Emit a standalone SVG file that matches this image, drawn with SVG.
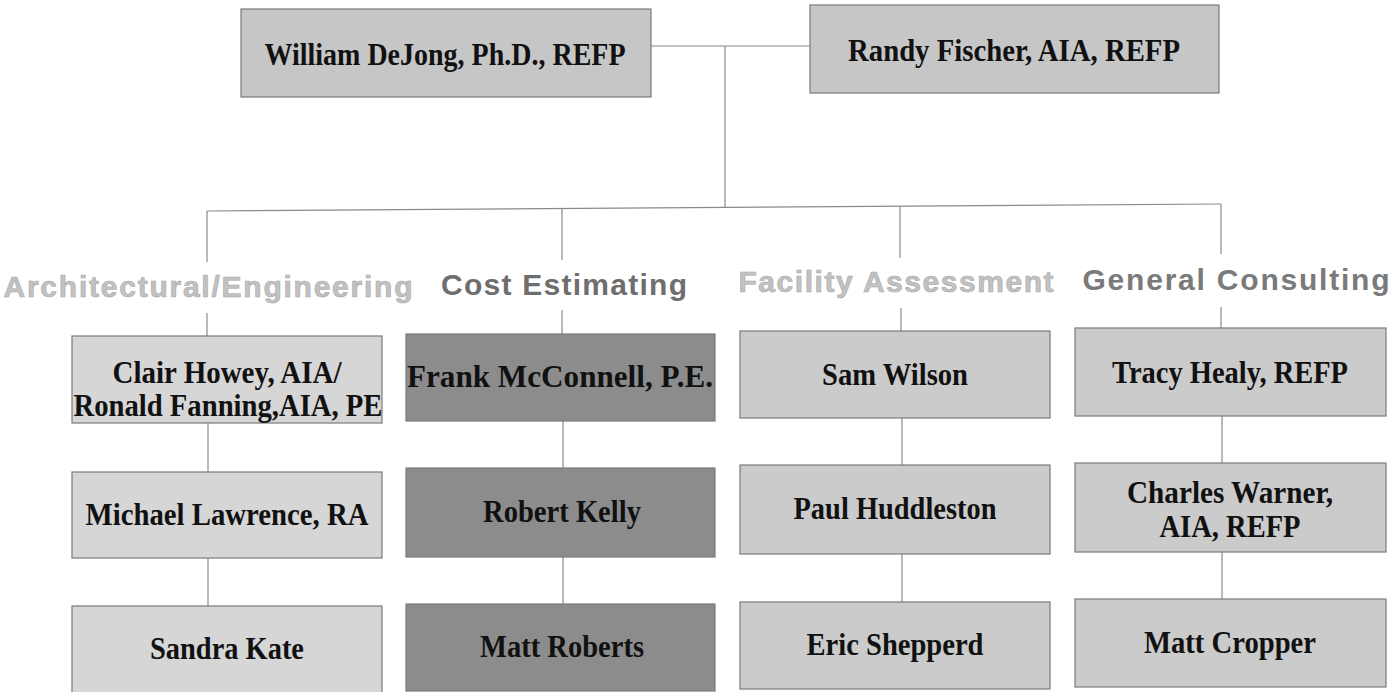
<svg xmlns="http://www.w3.org/2000/svg" width="1396" height="692" viewBox="0 0 1396 692">
<style>
.bg{fill:#ffffff}
.box{stroke:#7a7a7a;stroke-width:1.2}
.top{fill:#c6c6c6}
.c1{fill:#d6d6d6}
.c2{fill:#8c8c8c}
.c3{fill:#cbcbcb}
.name{font-family:"Liberation Serif","Times New Roman",serif;font-weight:bold;font-size:31px;fill:#111;text-anchor:middle}
.head{font-family:"Liberation Sans",Arial,sans-serif;font-weight:bold;font-size:30px;text-anchor:middle}
.hl{fill:#c2c2c2;stroke:#a8a8a8;stroke-width:0.6}
.hd{fill:#6e6e6e}
.hm{fill:#7a7a7a}
.conn line{stroke:#8a8a8a;stroke-width:1.2;fill:none}
</style>
<rect class="bg" x="0" y="0" width="1396" height="692"/>
<g id="connectors" class="conn">
<line x1="651" y1="46" x2="810" y2="46"/>
<line x1="725" y1="46" x2="725" y2="207.5"/>
<line x1="207" y1="211" x2="1221" y2="204"/>
<line x1="207" y1="211" x2="207" y2="262"/>
<line x1="562" y1="209" x2="562" y2="260"/>
<line x1="900" y1="206" x2="900" y2="258"/>
<line x1="1221" y1="204" x2="1221" y2="254"/>
<line x1="207" y1="313" x2="207" y2="336"/>
<line x1="562" y1="310" x2="562" y2="334"/>
<line x1="901" y1="308" x2="901" y2="331"/>
<line x1="1221" y1="307" x2="1221" y2="328"/>
<line x1="208" y1="423" x2="208" y2="472"/>
<line x1="208" y1="558" x2="208" y2="606"/>
<line x1="563" y1="421" x2="563" y2="468"/>
<line x1="563" y1="557" x2="563" y2="604"/>
<line x1="902" y1="418" x2="902" y2="465"/>
<line x1="902" y1="554" x2="902" y2="602"/>
<line x1="1222" y1="416" x2="1222" y2="463"/>
<line x1="1222" y1="552" x2="1222" y2="599"/>
</g>
<g id="william"><rect class="box top" x="241" y="9" width="410" height="88"/><text class="name" x="445" y="65" textLength="361" lengthAdjust="spacingAndGlyphs">William DeJong, Ph.D., REFP</text></g>
<g id="randy"><rect class="box top" x="810" y="5" width="409" height="88"/><text class="name" x="1014" y="61" textLength="332" lengthAdjust="spacingAndGlyphs">Randy Fischer, AIA, REFP</text></g>
<g id="head-arch"><text class="head hl" x="208" y="297" textLength="409" lengthAdjust="spacing">Architectural/Engineering</text></g>
<g id="head-cost"><text class="head hd" x="564" y="295" textLength="246" lengthAdjust="spacing">Cost Estimating</text></g>
<g id="head-facility"><text class="head hl" x="896" y="292" textLength="315" lengthAdjust="spacing">Facility Assessment</text></g>
<g id="head-general"><text class="head hm" x="1236" y="290" textLength="307" lengthAdjust="spacing">General Consulting</text></g>
<g id="clair"><rect class="box c1" x="72" y="336" width="310" height="87"/><text class="name" x="227" y="383" textLength="229" lengthAdjust="spacingAndGlyphs">Clair Howey, AIA/</text><text class="name" x="228" y="416" textLength="309" lengthAdjust="spacingAndGlyphs">Ronald Fanning,AIA, PE</text></g>
<g id="michael"><rect class="box c1" x="72" y="472" width="310" height="86"/><text class="name" x="227" y="525" textLength="283" lengthAdjust="spacingAndGlyphs">Michael Lawrence, RA</text></g>
<g id="sandra"><rect class="box c1" x="72" y="606" width="310" height="87"/><text class="name" x="227" y="659" textLength="154" lengthAdjust="spacingAndGlyphs">Sandra Kate</text></g>
<g id="frank"><rect class="box c2" x="406" y="334" width="309" height="87"/><text class="name" x="560" y="387" textLength="306" lengthAdjust="spacingAndGlyphs">Frank McConnell, P.E.</text></g>
<g id="robert"><rect class="box c2" x="406" y="468" width="309" height="89"/><text class="name" x="562" y="522" textLength="158" lengthAdjust="spacingAndGlyphs">Robert Kelly</text></g>
<g id="mattr"><rect class="box c2" x="406" y="604" width="309" height="87"/><text class="name" x="562" y="657" textLength="164" lengthAdjust="spacingAndGlyphs">Matt Roberts</text></g>
<g id="sam"><rect class="box c3" x="740" y="331" width="310" height="87"/><text class="name" x="895" y="385" textLength="146" lengthAdjust="spacingAndGlyphs">Sam Wilson</text></g>
<g id="paul"><rect class="box c3" x="740" y="465" width="310" height="89"/><text class="name" x="895" y="519" textLength="203" lengthAdjust="spacingAndGlyphs">Paul Huddleston</text></g>
<g id="eric"><rect class="box c3" x="740" y="602" width="310" height="87"/><text class="name" x="895" y="655" textLength="177" lengthAdjust="spacingAndGlyphs">Eric Shepperd</text></g>
<g id="tracy"><rect class="box c3" x="1075" y="328" width="311" height="88"/><text class="name" x="1230" y="383" textLength="236" lengthAdjust="spacingAndGlyphs">Tracy Healy, REFP</text></g>
<g id="charles"><rect class="box c3" x="1075" y="463" width="311" height="89"/><text class="name" x="1230" y="503" textLength="206" lengthAdjust="spacingAndGlyphs">Charles Warner,</text><text class="name" x="1230" y="537" textLength="141" lengthAdjust="spacingAndGlyphs">AIA, REFP</text></g>
<g id="mattc"><rect class="box c3" x="1075" y="599" width="311" height="88"/><text class="name" x="1230" y="653" textLength="172" lengthAdjust="spacingAndGlyphs">Matt Cropper</text></g>
</svg>
